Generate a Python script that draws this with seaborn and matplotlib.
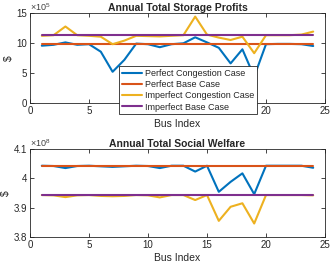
import numpy as np
import pandas as pd
import matplotlib
matplotlib.use("Agg")
import matplotlib.pyplot as plt
import seaborn as sns
from matplotlib.ticker import FuncFormatter

# ── Data ─────────────────────────────────────────────────────
bus = list(range(1, 25))

profit_perfect_cong = [9.55, 9.7, 10.1, 9.7, 9.8, 8.55, 5.2, 7.2, 9.9, 9.8, 9.3, 9.8,
                       9.95, 10.95, 10.1, 9.2, 6.6, 8.95, 4.4, 9.8, 9.85, 9.85, 9.8, 9.5]
profit_perfect_base = [9.83] * 24
profit_imperf_cong = [11.2, 11.3, 12.75, 11.3, 11.2, 11.05, 9.8, 10.4, 11.2, 11.15, 11.1, 11.2,
                      11.3, 14.4, 11.4, 10.9, 10.5, 11.05, 8.3, 11.3, 11.3, 11.3, 11.4, 11.9]
profit_imperf_base = [11.33] * 24

welfare_perfect_cong = [4.043, 4.042, 4.035, 4.042, 4.043, 4.041, 4.039, 4.041, 4.043, 4.042,
                        4.035, 4.043, 4.043, 4.023, 4.043, 3.954, 3.988, 4.017, 3.946, 4.043,
                        4.043, 4.043, 4.043, 4.036]
welfare_perfect_base = [4.043] * 24
welfare_imperf_cong = [3.943, 3.942, 3.936, 3.942, 3.943, 3.940, 3.939, 3.940, 3.943, 3.942,
                       3.935, 3.943, 3.943, 3.926, 3.943, 3.855, 3.903, 3.915, 3.846, 3.943,
                       3.943, 3.943, 3.943, 3.942]
welfare_imperf_base = [3.943] * 24

series_names = ["Perfect Congestion Case", "Perfect Base Case",
                "Imperfect Congestion Case", "Imperfect Base Case"]
colors = ["#0072BD", "#D95319", "#EDB120", "#7E2F8E"]

sns.set_style("ticks")
plt.rcParams["font.family"] = ["Liberation Sans", "DejaVu Sans"]
plt.rcParams["mathtext.fontset"] = "custom"
plt.rcParams["mathtext.rm"] = "Liberation Sans"
plt.rcParams["mathtext.it"] = "Liberation Sans"


def long_df(vals, scale):
    frames = []
    for name, v in zip(series_names, vals):
        frames.append(pd.DataFrame({"Bus": bus, "Value": np.array(v) * scale, "Case": name}))
    return pd.concat(frames, ignore_index=True)


def style_axis(ax, title, ylim, yticks, exp):
    ax.set_xlim(0, 25)
    ax.set_xticks([0, 5, 10, 15, 20, 25])
    ax.set_ylim(*ylim)
    ax.set_yticks(yticks)
    ax.yaxis.set_major_formatter(FuncFormatter(lambda v, p: f"{v / 10**exp:g}"))
    ax.text(0.0, 1.0, r"$\times10^{%d}$" % exp, transform=ax.transAxes,
            fontsize=6.5, color="#404040", ha="left", va="bottom")
    ax.tick_params(direction="in", top=True, right=True, labelsize=7,
                   length=3, width=0.6, colors="#262626", pad=2)
    for s in ax.spines.values():
        s.set_visible(True)
        s.set_linewidth(0.6)
        s.set_color("#262626")
    ax.set_title(title, fontsize=7.5, fontweight="bold", pad=1.5)
    ax.set_xlabel("Bus Index", fontsize=7.5, labelpad=2)
    ax.set_ylabel("\\$", fontsize=7.5, labelpad=2)


fig = plt.figure(figsize=(3.32, 2.67), dpi=100)
ax1 = fig.add_axes([30 / 332, 1 - 103 / 267, 295 / 332, 90 / 267])
ax2 = fig.add_axes([30 / 332, 1 - 237 / 267, 295 / 332, 88 / 267])

df1 = long_df([profit_perfect_cong, profit_perfect_base, profit_imperf_cong, profit_imperf_base], 1e5)
df2 = long_df([welfare_perfect_cong, welfare_perfect_base, welfare_imperf_cong, welfare_imperf_base], 1e8)

sns.lineplot(data=df1, x="Bus", y="Value", hue="Case", hue_order=series_names,
             palette=colors, linewidth=1.5, ax=ax1)
sns.lineplot(data=df2, x="Bus", y="Value", hue="Case", hue_order=series_names,
             palette=colors, linewidth=1.5, ax=ax2, legend=False)

style_axis(ax1, "Annual Total Storage Profits", (0, 15e5), [0, 5e5, 10e5, 15e5], 5)
style_axis(ax2, "Annual Total Social Welfare", (3.8e8, 4.1e8), [3.8e8, 3.9e8, 4.0e8, 4.1e8], 8)

# the legend hides the 10 and 15 tick labels of the top panel
ax1.set_xticklabels(["0", "5", "", "", "20", "25"])

handles, labels = ax1.get_legend_handles_labels()
leg = ax1.legend(handles, labels, loc="lower left", bbox_to_anchor=(0.302, -0.125),
                 fontsize=6.5, frameon=True, fancybox=False, framealpha=1,
                 handlelength=2.2, handletextpad=0.4, labelspacing=0.25,
                 borderpad=0.3, borderaxespad=0)
leg.get_frame().set_edgecolor("#262626")
leg.get_frame().set_linewidth(0.6)
leg.set_zorder(10)

fig.savefig("out.png", dpi=100)
